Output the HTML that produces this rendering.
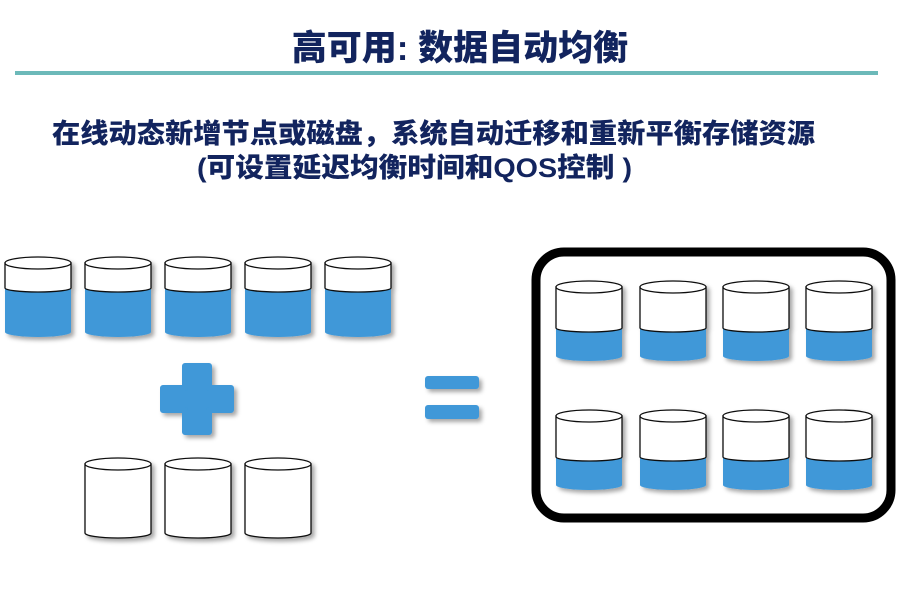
<!DOCTYPE html>
<html><head><meta charset="utf-8"><style>
html,body{margin:0;padding:0;background:#fff;width:904px;height:600px;overflow:hidden}
</style></head><body>
<svg width="904" height="600" xmlns="http://www.w3.org/2000/svg" font-family="'Liberation Sans','Noto Sans CJK SC',sans-serif">
<defs>
<filter id="sh" x="-20%" y="-20%" width="150%" height="150%"><feDropShadow dx="3" dy="3" stdDeviation="2" flood-color="#000" flood-opacity="0.35"/></filter>
<g id="full">
 <path d="M0,6 L0,75 A33,5 0 0 0 66,75 L66,6 Z" fill="#3f98d8"/>
 <path d="M0,6 L0,31 A33,4 0 0 0 66,31 L66,6 Z" fill="#fff" stroke="#111" stroke-width="1.3"/>
 <ellipse cx="33" cy="6" rx="33" ry="6" fill="#fff" stroke="#111" stroke-width="1.3"/>
</g>
<g id="half">
 <path d="M0,6 L0,75 A33,5 0 0 0 66,75 L66,6 Z" fill="#3f98d8"/>
 <path d="M0,6 L0,47 A33,4 0 0 0 66,47 L66,6 Z" fill="#fff" stroke="#111" stroke-width="1.3"/>
 <ellipse cx="33" cy="6" rx="33" ry="6" fill="#fff" stroke="#111" stroke-width="1.3"/>
</g>
<g id="empty">
 <path d="M0,6 L0,75 A33,5 0 0 0 66,75 L66,6 Z" fill="#fff" stroke="#111" stroke-width="1.3"/>
 <ellipse cx="33" cy="6" rx="33" ry="6" fill="#fff" stroke="#111" stroke-width="1.3"/>
</g>
</defs>
<text x="460" y="60" text-anchor="middle" font-size="35" font-weight="900" fill="#12245e">高可用: 数据自动均衡</text>
<rect x="15" y="71" width="863" height="4" fill="#6cb9b9"/>
<text x="52" y="143" font-size="27" font-weight="900" fill="#12245e" textLength="763" lengthAdjust="spacingAndGlyphs">在线动态新增节点或磁盘，系统自动迁移和重新平衡存储资源</text>
<text x="197" y="177" font-size="27" font-weight="900" fill="#12245e" textLength="435" lengthAdjust="spacingAndGlyphs">(可设置延迟均衡时间和QOS控制 )</text>
<g filter="url(#sh)">
<use href="#full" x="5" y="257"/><use href="#full" x="85" y="257"/><use href="#full" x="165" y="257"/><use href="#full" x="245" y="257"/><use href="#full" x="325" y="257"/>
<use href="#empty" x="85" y="458"/><use href="#empty" x="165" y="458"/><use href="#empty" x="245" y="458"/>
<path d="M185,366 h24 v22 h22 v22 h-22 v22 h-24 v-22 h-22 v-22 h22 z" fill="#3f98d8" stroke="#3f98d8" stroke-width="6" stroke-linejoin="round"/>
<rect x="425" y="376" width="54" height="13" rx="3" fill="#3f98d8"/>
<rect x="425" y="405" width="54" height="14" rx="3" fill="#3f98d8"/>
<use href="#half" x="556" y="281"/><use href="#half" x="640" y="281"/><use href="#half" x="723" y="281"/><use href="#half" x="806" y="281"/>
<use href="#half" x="556" y="410"/><use href="#half" x="640" y="410"/><use href="#half" x="723" y="410"/><use href="#half" x="806" y="410"/>
</g>
<rect x="536" y="252" width="355" height="266" rx="28" fill="none" stroke="#000" stroke-width="9"/>
</svg>
</body></html>
